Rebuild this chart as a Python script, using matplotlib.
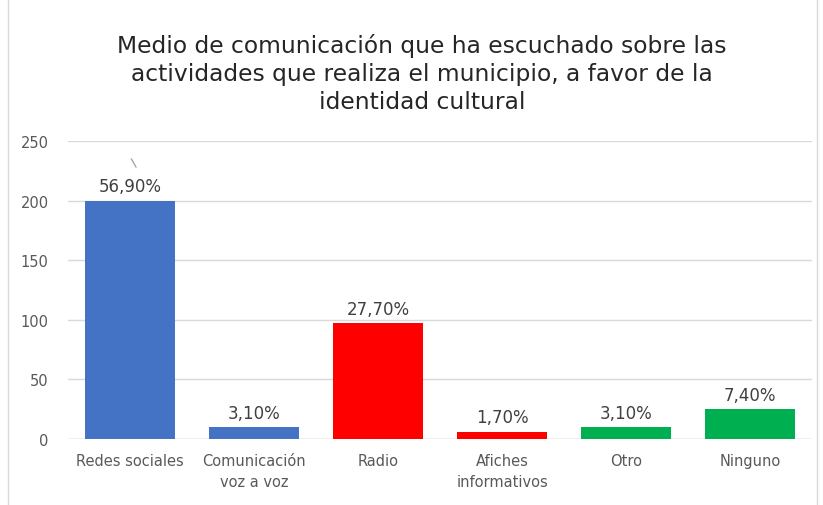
import matplotlib.pyplot as plt
import numpy as np

plt.rcParams['font.family'] = ['DejaVu Sans']

categorias = ['Redes sociales', 'Comunicación\nvoz a voz', 'Radio',
              'Afiches\ninformativos', 'Otro', 'Ninguno']
valores = [200, 10, 97, 6, 10, 25]
etiquetas = ['56,90%', '3,10%', '27,70%', '1,70%', '3,10%', '7,40%']
colores = ['#4472C4', '#4472C4', '#FF0000', '#FF0000', '#00B050', '#00B050']

titulo = ('Medio de comunicación que ha escuchado sobre las\n'
          'actividades que realiza el municipio, a favor de la\n'
          'identidad cultural')

gris = '#595959'

fig = plt.figure(figsize=(8.23, 5.06), dpi=100)
ax = fig.add_axes([68 / 823, 1 - 440 / 506, (812 - 68) / 823, (440 - 142) / 506])

x = np.arange(len(categorias))
ax.bar(x, valores, width=0.73, color=colores, zorder=3)

ax.set_ylim(0, 250)
ax.set_xlim(-0.5, len(categorias) - 0.5)
ax.set_yticks(np.arange(0, 251, 50))
ax.yaxis.grid(True, color='#D9D9D9', linewidth=1, zorder=0)
for s in ax.spines.values():
    s.set_visible(False)
ax.tick_params(axis='both', length=0, colors=gris, labelsize=10.5)
ax.tick_params(axis='y', pad=14)
ax.tick_params(axis='x', pad=10)
ax.set_xticks(x)
ax.set_xticklabels(categorias, color=gris, fontsize=10.5, linespacing=1.55)
ax.axhline(0, color='#D9D9D9', linewidth=1, zorder=2)

for xi, v, t in zip(x, valores, etiquetas):
    ax.annotate(t, (xi, v), xytext=(0, 4), textcoords='offset points',
                ha='center', va='bottom', fontsize=12, color='#404040')

# linea guia de la primera etiqueta
ax.annotate('', xy=(x[0] + 0.06, valores[0] + 26), xytext=(x[0], valores[0] + 37),
            arrowprops=dict(arrowstyle='-', color='#A6A6A6', lw=1))

fig.text(0.513, 0.932, titulo, ha='center', va='top', fontsize=16.8,
         color='#262626', linespacing=1.28)

# borde del grafico
fig.add_artist(plt.Line2D([0.01, 0.01], [0, 1], color='#D9D9D9', lw=1))
fig.add_artist(plt.Line2D([0.993, 0.993], [0, 1], color='#D9D9D9', lw=1))

fig.savefig('out.png', dpi=100)
